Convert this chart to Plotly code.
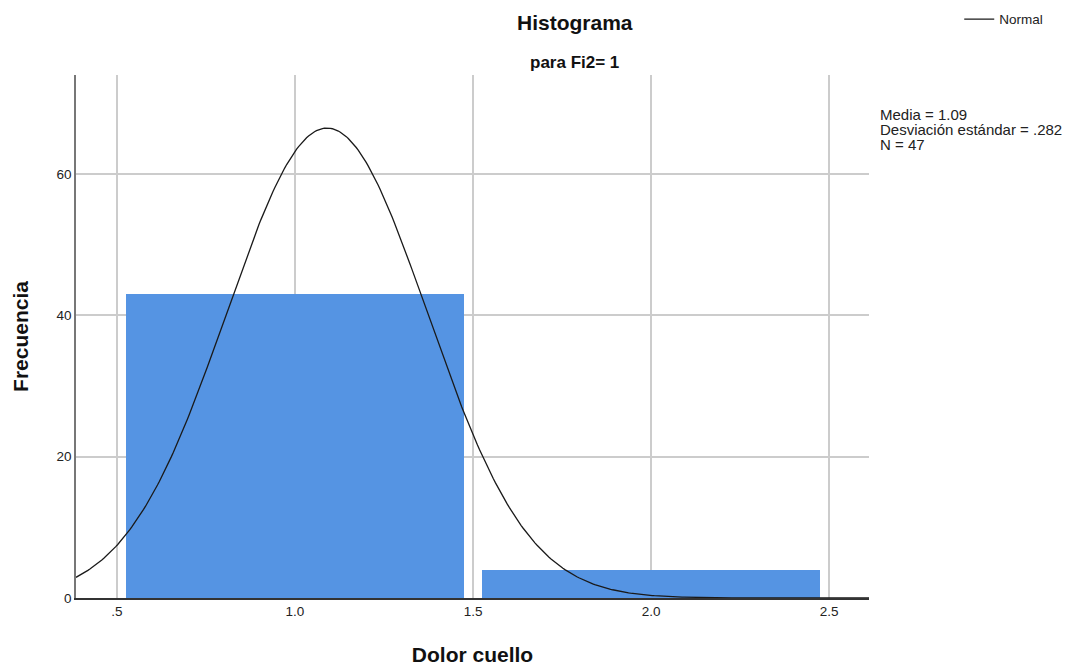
import numpy as np
import plotly.graph_objects as go

# Data
bin_centers = [1.0, 2.0]
frequencies = [43, 4]
bin_width = 1.0
mean_val = 1.09
std_val = 0.282
n_val = 47
x_tickvals = [0.5, 1.0, 1.5, 2.0, 2.5]
x_ticktext = [".5", "1.0", "1.5", "2.0", "2.5"]
y_tickvals = [0, 20, 40, 60]
stats_lines = ["Media = 1.09", "Desviación estándar = .282", "N = 47"]

# Normal curve defined by displayed statistics
xc = np.linspace(0.385, 2.612, 400)
yc = n_val * bin_width / (std_val * np.sqrt(2 * np.pi)) * np.exp(-0.5 * ((xc - mean_val) / std_val) ** 2)

fig = go.Figure()
fig.add_trace(go.Bar(x=bin_centers, y=frequencies, width=0.95,
                     marker=dict(color="#5594e3", line=dict(width=0)),
                     showlegend=False, hoverinfo="x+y"))
fig.add_trace(go.Scatter(x=xc, y=yc, mode="lines", name="Normal",
                         line=dict(color="#1a1a1a", width=1.3)))

font_family = "Liberation Sans, Arial, sans-serif"
PH = 523.0

annotations = [
    dict(text="<b>Histograma</b>", x=0.629, y=1.0 + 53 / PH, xref="paper", yref="paper",
         yanchor="middle", xanchor="center", showarrow=False,
         font=dict(size=21, color="#111")),
    dict(text="<b>para Fi2= 1</b>", x=0.629, y=1.0 + 13 / PH, xref="paper", yref="paper",
         yanchor="middle", xanchor="center", showarrow=False,
         font=dict(size=17, color="#111")),
]
for i, line in enumerate(stats_lines):
    annotations.append(dict(text=line, x=1.0 + 9 / 793, y=(598 - (114 + 15 * i)) / PH,
                            xref="paper", yref="paper", xanchor="left", yanchor="middle",
                            align="left", showarrow=False,
                            font=dict(size=15, color="#222")))

fig.update_layout(
    width=1067, height=666,
    margin=dict(l=76, r=198, t=75, b=68, autoexpand=False),
    paper_bgcolor="white", plot_bgcolor="white",
    font=dict(family=font_family, size=13, color="#222"),
    bargap=0,
    legend=dict(xref="container", yref="container", x=0.899, y=0.971,
                xanchor="left", yanchor="middle",
                font=dict(size=13.5, color="#222"), bgcolor="rgba(0,0,0,0)",
                itemwidth=30),
    xaxis=dict(range=[0.385, 2.612], tickvals=x_tickvals, ticktext=x_ticktext,
               showgrid=True, gridcolor="#cccccc", gridwidth=1.5,
               showline=True, linecolor="#333333", linewidth=1.5,
               ticks="", zeroline=False, tickfont=dict(size=13.5, color="#222"),
               automargin=False,
               title=dict(text="<b>Dolor cuello</b>", font=dict(size=21, color="#111"), standoff=30)),
    yaxis=dict(range=[0, 74], tickvals=y_tickvals,
               showgrid=True, gridcolor="#cccccc", gridwidth=1.5,
               showline=True, linecolor="#777777", linewidth=1.5,
               ticks="", zeroline=False, tickfont=dict(size=13.5, color="#222"),
               automargin=False,
               title=dict(text="<b>Frecuencia</b>", font=dict(size=21, color="#111"), standoff=22)),
    annotations=annotations,
)

fig.write_html("out.html", config={"displayModeBar": False},
               post_script="document.body.style.margin='0';")
